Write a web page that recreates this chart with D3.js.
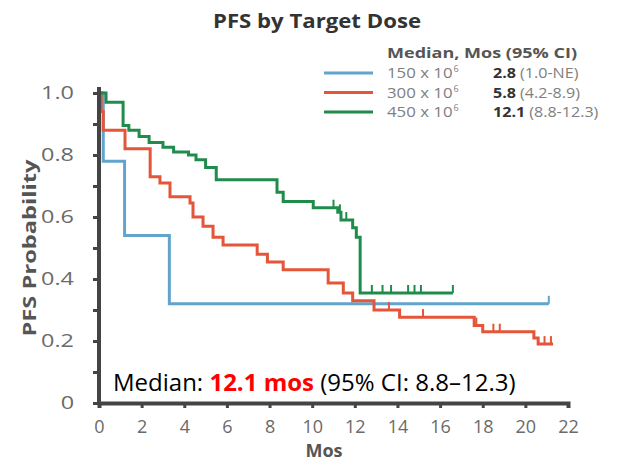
<!DOCTYPE html>
<html>
<head>
  <title>PFS by Target Dose</title>
  <script src="https://cdn.jsdelivr.net/npm/d3@7"></script>
  <style>
    body { margin: 0; background: #fff; }
    .axis path, .axis line { stroke: #444; }
    .axis text { fill: #6a6a6a; font-family: "Open Sans", sans-serif; }
  </style>
</head>
<body>
  <div id="chart"></div>
  <script>
    // Kaplan-Meier steps (months, survival)
    const blueTimes = [0, 0.2, 1.2, 3.3, 21.1];
    const blueSurv  = [1.0, 0.78, 0.54, 0.32, 0.32];
    const blueCens  = [21.1];

    const redTimes = [0, 0.1, 0.2, 1.22, 2.4, 2.86, 3.33, 4.27, 4.41, 4.88, 5.35, 5.82, 7.42, 7.9, 8.64, 10.75, 11.46, 11.9, 12.9, 14.1, 17.6, 18.0, 20.4, 20.6, 21.3];
    const redSurv  = [1.0, 0.94, 0.88, 0.82, 0.73, 0.71, 0.665, 0.645, 0.60, 0.57, 0.535, 0.51, 0.48, 0.455, 0.43, 0.387, 0.355, 0.33, 0.30, 0.277, 0.25, 0.23, 0.21, 0.19, 0.19];
    const redCens  = [13.6, 15.2, 17.7, 18.5, 18.8, 20.9, 21.2];

    const greenTimes = [0, 0.33, 1.13, 1.4, 1.88, 2.35, 3.0, 3.5, 4.2, 4.55, 5.0, 5.5, 8.35, 8.64, 10.05, 11.2, 11.35, 11.9, 12.07, 12.25, 16.6];
    const greenSurv  = [1.0, 0.97, 0.895, 0.88, 0.86, 0.84, 0.825, 0.81, 0.80, 0.785, 0.76, 0.72, 0.68, 0.65, 0.63, 0.615, 0.59, 0.565, 0.535, 0.355, 0.355];
    const greenCens  = [11.0, 11.3, 11.6, 12.8, 13.3, 13.7, 14.5, 14.8, 15.1, 16.6];

    const xTicks = [0, 2, 4, 6, 8, 10, 12, 14, 16, 18, 20, 22];
    const yTicks = [0, 0.1, 0.2, 0.3, 0.4, 0.5, 0.6, 0.7, 0.8, 0.9, 1.0];
    const yLabels = { 0: "0", 0.2: "0.2", 0.4: "0.4", 0.6: "0.6", 0.8: "0.8", 1.0: "1.0" };

    const doses   = ["150 x 10", "300 x 10", "450 x 10"];
    const medians = ["2.8", "5.8", "12.1"];
    const cis     = ["(1.0-NE)", "(4.2-8.9)", "(8.8-12.3)"];
    const colors  = ["#62a4cc", "#e4553a", "#1f8c4c"];

    const series = [
      { times: blueTimes, surv: blueSurv, cens: blueCens },
      { times: redTimes, surv: redSurv, cens: redCens },
      { times: greenTimes, surv: greenSurv, cens: greenCens }
    ];

    const W = 618, H = 466;
    const margin = { top: 93, right: 50, bottom: 63, left: 99 };
    const width = W - margin.left - margin.right;
    const height = H - margin.top - margin.bottom;

    const svg = d3.select("#chart").append("svg")
      .attr("width", W).attr("height", H);

    // the source image is a little wide: stretch text glyphs to match.
    // returns the stretched width
    function widen(sel, k) {
      const w = sel.node().getComputedTextLength() * k;
      sel.attr("textLength", w).attr("lengthAdjust", "spacingAndGlyphs");
      return w;
    }

    svg.append("text")
      .attr("x", 213).attr("y", 28)
      .attr("font-family", "Open Sans, sans-serif")
      .attr("font-weight", "bold")
      .attr("font-size", 20)
      .attr("fill", "#333")
      .attr("textLength", 208).attr("lengthAdjust", "spacingAndGlyphs")
      .text("PFS by Target Dose");

    const g = svg.append("g")
      .attr("transform", `translate(${margin.left},${margin.top})`);

    const x = d3.scaleLinear().domain([0, 22]).range([0, width]);
    const y = d3.scaleLinear().domain([0, 1]).range([height, 0]);

    const line = d3.line()
      .x(d => x(d[0]))
      .y(d => y(d[1]))
      .curve(d3.curveStepAfter);

    series.forEach((s, i) => {
      const pts = s.times.map((t, j) => [t, s.surv[j]]);
      g.append("path")
        .datum(pts)
        .attr("fill", "none")
        .attr("stroke", colors[i])
        .attr("stroke-width", 3)
        .attr("d", line);

      const survAt = t => s.surv[Math.max(0, d3.bisectRight(s.times, t) - 1)];
      g.selectAll(null)
        .data(s.cens)
        .join("line")
        .attr("x1", d => x(d)).attr("x2", d => x(d))
        .attr("y1", d => y(survAt(d))).attr("y2", d => y(survAt(d)) - 8)
        .attr("stroke", colors[i])
        .attr("stroke-width", 2);
    });

    // axes
    const xAxis = g.append("g")
      .attr("class", "axis")
      .attr("transform", `translate(0,${height})`)
      .call(d3.axisBottom(x).tickValues(xTicks).tickSize(5).tickPadding(12));
    xAxis.select(".domain").attr("stroke-width", 4);
    xAxis.selectAll(".tick line").attr("stroke-width", 3);
    xAxis.selectAll("text").attr("font-size", 18);

    const yAxis = g.append("g")
      .attr("class", "axis")
      .call(d3.axisLeft(y).tickValues(yTicks).tickSize(6).tickPadding(19)
        .tickFormat(d => yLabels[Math.round(d * 10) / 10] || ""));
    yAxis.select(".domain").attr("stroke-width", 4).attr("d", `M0,-6V${height}`);
    yAxis.selectAll(".tick line").attr("stroke-width", 3);
    yAxis.selectAll("text").attr("font-size", 18)
      .filter(function() { return this.textContent !== ""; })
      .each(function() { widen(d3.select(this), 1.3); });

    svg.append("text")
      .attr("x", 324).attr("y", 457)
      .attr("text-anchor", "middle")
      .attr("font-family", "Open Sans, sans-serif")
      .attr("font-weight", "bold")
      .attr("font-size", 18)
      .attr("fill", "#555")
      .text("Mos");

    svg.append("text")
      .attr("transform", `translate(36,${margin.top + 155}) rotate(-90)`)
      .attr("text-anchor", "middle")
      .attr("font-family", "Open Sans, sans-serif")
      .attr("font-weight", "bold")
      .attr("font-size", 18)
      .attr("fill", "#555")
      .attr("textLength", 177).attr("lengthAdjust", "spacingAndGlyphs")
      .text("PFS Probability");

    // legend
    const lg = svg.append("g")
      .attr("font-family", "Open Sans, sans-serif")
      .attr("font-size", 14)
      .attr("fill", "#808080");
    lg.append("text")
      .attr("x", 387).attr("y", 58)
      .attr("font-weight", "bold").attr("fill", "#555")
      .attr("textLength", 190).attr("lengthAdjust", "spacingAndGlyphs")
      .text("Median, Mos (95% CI)");
    doses.forEach((d, i) => {
      const yy = 73 + i * 19.5;
      lg.append("line")
        .attr("x1", 324).attr("x2", 373)
        .attr("y1", yy).attr("y2", yy)
        .attr("stroke", colors[i]).attr("stroke-width", 3);
      const tw = widen(lg.append("text").attr("x", 387).attr("y", yy + 5).text(d), 1.2);
      lg.append("text").attr("x", 387 + tw + 1).attr("y", yy - 1)
        .attr("font-size", 9).text("6");
      const mw = widen(lg.append("text").attr("x", 493).attr("y", yy + 5)
        .attr("font-weight", "bold").attr("fill", "#333").text(medians[i]), 1.15);
      widen(lg.append("text").attr("x", 493 + mw + 4).attr("y", yy + 5).text(cis[i]), 1.15);
    });

    // annotation
    const ann = svg.append("text")
      .attr("x", 113).attr("y", 391)
      .attr("font-family", "Open Sans, sans-serif")
      .attr("font-size", 24)
      .attr("fill", "#000");
    ann.append("tspan").text("Median: ");
    ann.append("tspan").attr("font-weight", "bold").attr("fill", "#ff0000").text("12.1 mos");
    ann.append("tspan").text(" (95% CI: 8.8\u201312.3)");
  </script>
</body>
</html>
